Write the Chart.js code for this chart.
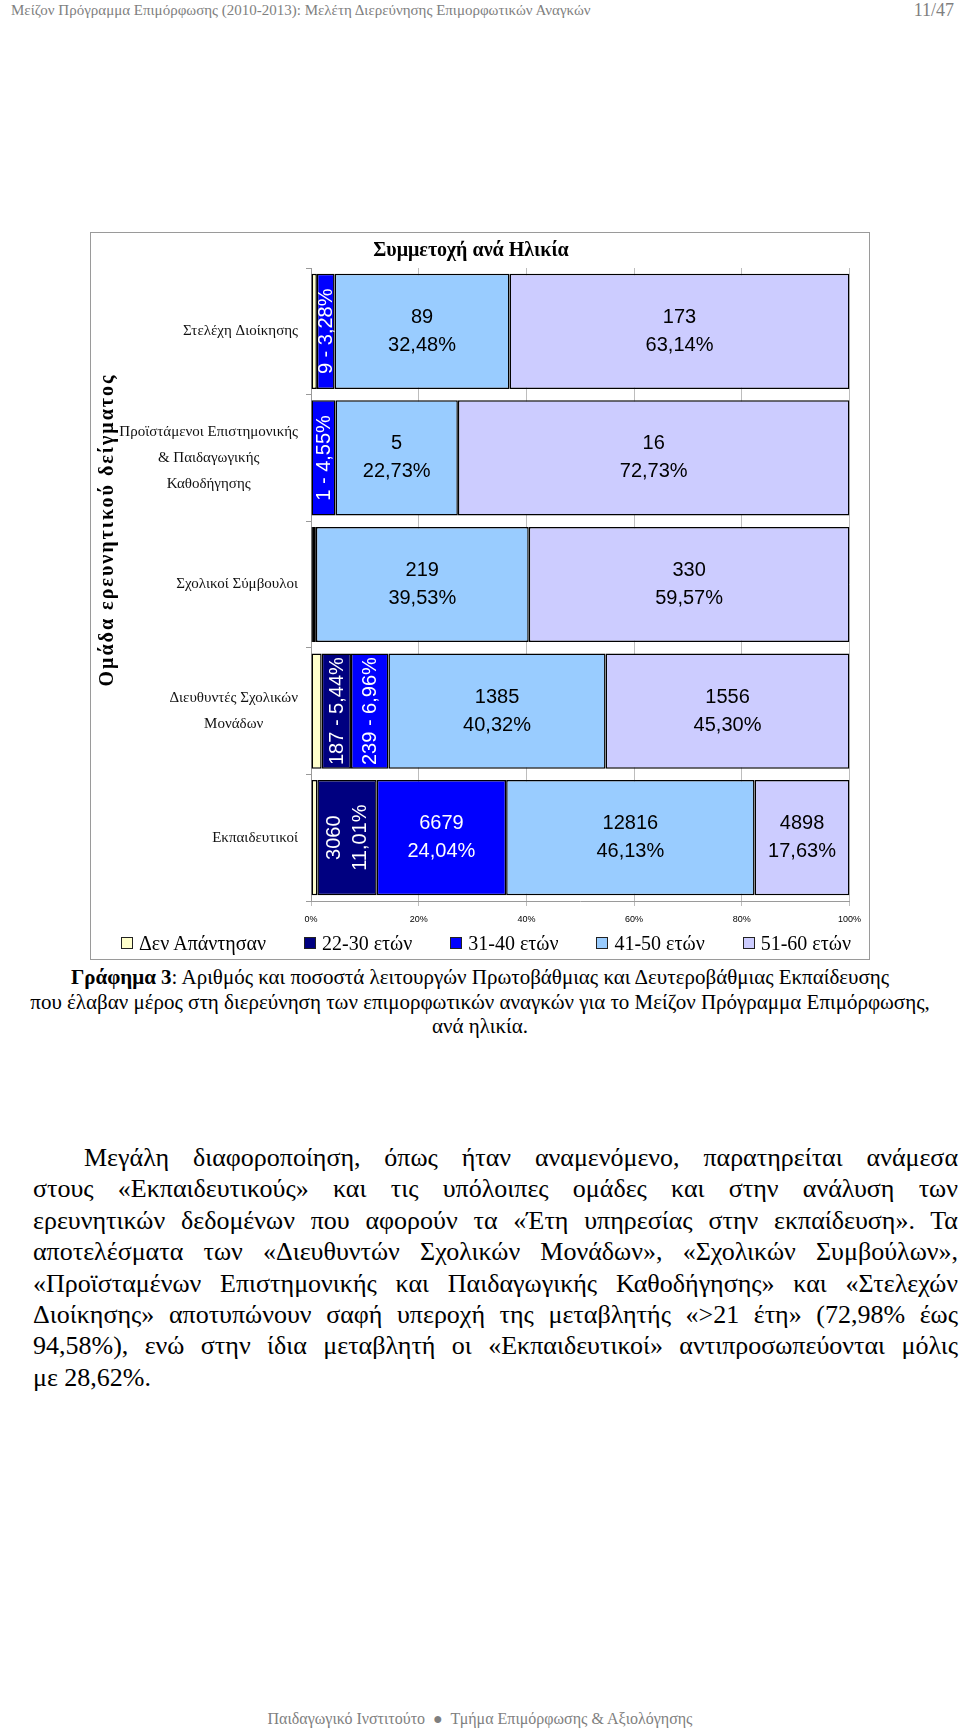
<!DOCTYPE html>
<html lang="el">
<head>
<meta charset="utf-8">
<title>Συμμετοχή ανά Ηλικία</title>
<script src="https://cdn.jsdelivr.net/npm/chart.js@4.4.1/dist/chart.umd.min.js"></script>
<style>
  body { margin: 0; background: #fff; }
  .page { position: relative; width: 960px; height: 1728px; font-family: "Liberation Serif", "Times New Roman", serif; color: #000; }
  .hdr { position: absolute; top: 0; left: 11px; font-size: 15px; line-height: 20px; color: #7f7f7f; }
  .pno { position: absolute; top: 0; right: 6px; font-size: 18px; line-height: 20px; color: #7f7f7f; }
  .box { position: absolute; left: 90px; top: 232px; width: 778px; height: 726px; border: 1px solid #9a9a9a; }
  #chart { position: absolute; left: 0; top: 0; }
  .legend { position: absolute; left: 121px; top: 933px; width: 730px; height: 20px; display: flex; justify-content: space-between; align-items: center; }
  .legend span { display: flex; align-items: center; font-size: 20px; line-height: 20px; white-space: nowrap; }
  .legend i { display: inline-block; width: 10px; height: 10px; border: 1px solid #222; margin-right: 6px; }
  .cap { position: absolute; left: 0; top: 965px; width: 960px; text-align: center; font-size: 21px; line-height: 24.5px; white-space: nowrap; }
  .body { position: absolute; left: 33px; top: 1142px; width: 925px; font-size: 26px; }
  .body div { height: 31.4px; line-height: 31.4px; text-align: justify; text-align-last: justify; white-space: nowrap; }
  .body div.first { padding-left: 51px; }
  .body div.last { text-align: left; text-align-last: left; }
  .ftr { position: absolute; left: 0; top: 1708px; width: 960px; text-align: center; font-size: 16px; line-height: 22px; color: #7f7f7f; }
</style>
</head>
<body>
<div class="page">
  <div class="hdr">Μείζον Πρόγραμμα Επιμόρφωσης (2010-2013): Μελέτη Διερεύνησης Επιμορφωτικών Αναγκών</div>
  <div class="pno">11/47</div>

  <div class="box"><canvas id="chart" width="778" height="726"></canvas></div>
  <div class="legend" id="legend"></div>

  <div class="cap">
    <b>Γράφημα 3</b>: Αριθμός και ποσοστά λειτουργών Πρωτοβάθμιας και Δευτεροβάθμιας Εκπαίδευσης<br>
    που έλαβαν μέρος στη διερεύνηση των επιμορφωτικών αναγκών για το Μείζον Πρόγραμμα Επιμόρφωσης,<br>
    ανά ηλικία.
  </div>

  <div class="body">
    <div class="first">Μεγάλη διαφοροποίηση, όπως ήταν αναμενόμενο, παρατηρείται ανάμεσα</div>
    <div>στους «Εκπαιδευτικούς» και τις υπόλοιπες ομάδες και στην ανάλυση των</div>
    <div>ερευνητικών δεδομένων που αφορούν τα «Έτη υπηρεσίας στην εκπαίδευση». Τα</div>
    <div>αποτελέσματα των «Διευθυντών Σχολικών Μονάδων», «Σχολικών Συμβούλων»,</div>
    <div>«Προϊσταμένων Επιστημονικής και Παιδαγωγικής Καθοδήγησης» και «Στελεχών</div>
    <div>Διοίκησης» αποτυπώνουν σαφή υπεροχή της μεταβλητής «&gt;21 έτη» (72,98% έως</div>
    <div>94,58%), ενώ στην ίδια μεταβλητή οι «Εκπαιδευτικοί» αντιπροσωπεύονται μόλις</div>
    <div class="last">με 28,62%.</div>
  </div>

  <div class="ftr">Παιδαγωγικό Ινστιτούτο &nbsp;●&nbsp; Τμήμα Επιμόρφωσης &amp; Αξιολόγησης</div>
</div>

<script>
// categories, top to bottom
const categories = [
  'Στελέχη Διοίκησης',
  ['Προϊστάμενοι Επιστημονικής', '& Παιδαγωγικής', 'Καθοδήγησης'],
  'Σχολικοί Σύμβουλοι',
  ['Διευθυντές Σχολικών', 'Μονάδων'],
  'Εκπαιδευτικοί'
];
const seriesNames = ['Δεν Απάντησαν', '22-30 ετών', '31-40 ετών', '41-50 ετών', '51-60 ετών'];

// number of respondents per age group
const noAnswer = [3, 0, 2, 68, 329];
const age22_30 = [0, 0, 0, 187, 3060];
const age31_40 = [9, 1, 3, 239, 6679];
const age41_50 = [89, 5, 219, 1385, 12816];
const age51_60 = [173, 16, 330, 1556, 4898];

const xTicks = [0, 20, 40, 60, 80, 100];
const chartTitle = 'Συμμετοχή ανά Ηλικία';
const yTitle = 'Ομάδα ερευνητικού δείγματος';

const colors = ['#FFFFCC', '#000080', '#0000FF', '#99CCFF', '#CCCCFF'];
const textColors = ['#000', '#fff', '#fff', '#000', '#000'];

const counts = [noAnswer, age22_30, age31_40, age41_50, age51_60];
const totals = categories.map((c, i) => counts.reduce((s, arr) => s + arr[i], 0));
const share = arr => arr.map((v, i) => v / totals[i] * 100);
const fmt = v => v.toFixed(2).replace('.', ',') + '%';

const SANS = '"Liberation Sans", Arial, sans-serif';
const SERIF = '"Liberation Serif", "Times New Roman", serif';

// html legend
document.getElementById('legend').innerHTML = seriesNames
  .map((n, i) => `<span><i style="background:${colors[i]}"></i>${n}</span>`).join('');

const barLabels = {
  id: 'barLabels',
  afterDatasetsDraw(chart) {
    const ctx = chart.ctx;
    ctx.save();
    ctx.font = '20px ' + SANS;
    ctx.textAlign = 'center';
    ctx.textBaseline = 'middle';
    chart.data.datasets.forEach((ds, di) => {
      if (di === 0) return;
      chart.getDatasetMeta(di).data.forEach((bar, i) => {
        const n = counts[di][i];
        const w = Math.abs(bar.x - bar.base);
        if (!n || w < 10) return; // too thin for a label
        const pct = fmt(ds.data[i]);
        const cx = (bar.x + bar.base) / 2;
        const cy = bar.y;
        ctx.fillStyle = textColors[di];
        if (w < 45) {
          ctx.save();
          ctx.translate(cx, cy);
          ctx.rotate(-Math.PI / 2);
          ctx.fillText(n + ' - ' + pct, 0, 1);
          ctx.restore();
        } else if (w < 90) {
          ctx.save();
          ctx.translate(cx, cy);
          ctx.rotate(-Math.PI / 2);
          ctx.fillText(String(n), 0, -13);
          ctx.fillText(pct, 0, 13);
          ctx.restore();
        } else {
          ctx.fillText(String(n), cx, cy - 14);
          ctx.fillText(pct, cx, cy + 14);
        }
      });
    });
    ctx.restore();
  }
};

const sideLabels = {
  id: 'sideLabels',
  afterDraw(chart) {
    const ctx = chart.ctx;
    const y = chart.scales.y;
    ctx.save();
    ctx.fillStyle = '#111';
    ctx.textAlign = 'center';
    ctx.textBaseline = 'middle';
    ctx.font = '15px ' + SERIF;
    categories.forEach((lab, i) => {
      const lines = [].concat(lab);
      const bw = Math.max(...lines.map(l => ctx.measureText(l).width));
      const cx = y.right - 13 - bw / 2;
      const cy = y.getPixelForValue(i);
      lines.forEach((l, k) => ctx.fillText(l, cx, cy + (k - (lines.length - 1) / 2) * 26));
    });
    ctx.translate(17, 297);
    ctx.rotate(-Math.PI / 2);
    ctx.font = 'bold 20px ' + SERIF;
    ctx.letterSpacing = '2px';
    ctx.fillStyle = '#000';
    ctx.fillText(yTitle, 0, 0);
    ctx.restore();
  }
};

Chart.defaults.font.family = SANS;

new Chart(document.getElementById('chart'), {
  type: 'bar',
  data: {
    labels: categories,
    datasets: counts.map((arr, i) => ({
      label: seriesNames[i],
      data: share(arr),
      backgroundColor: colors[i]
    }))
  },
  options: {
    indexAxis: 'y',
    responsive: false,
    animation: false,
    devicePixelRatio: 1,
    layout: { padding: { left: 0, right: 18, top: 0, bottom: 34 } },
    datasets: {
      bar: {
        barPercentage: 0.91,
        categoryPercentage: 1,
        borderColor: '#000',
        borderWidth: 1.5,
        borderSkipped: false
      }
    },
    plugins: {
      legend: { display: false },
      tooltip: { enabled: false },
      title: {
        display: true,
        text: chartTitle,
        color: '#000',
        font: { family: SERIF, size: 20, weight: 'bold', lineHeight: 1.2 },
        padding: { top: 6, bottom: 5 }
      }
    },
    scales: {
      x: {
        stacked: true,
        min: 0,
        max: 100,
        afterBuildTicks: s => { s.ticks = xTicks.map(v => ({ value: v })); },
        afterFit: s => { s.height = 24; },
        ticks: { callback: v => v + '%', color: '#000', font: { size: 9 }, padding: 8, maxRotation: 0 },
        grid: { color: '#bdbdbd', tickLength: 5 },
        border: { color: '#9a9a9a' }
      },
      y: {
        stacked: true,
        afterFit: s => { s.width = 220; },
        ticks: { display: false },
        grid: { drawOnChartArea: false, offset: true, tickLength: 5, color: '#9a9a9a' },
        border: { color: '#9a9a9a' }
      }
    }
  },
  plugins: [barLabels, sideLabels]
});
</script>
</body>
</html>
